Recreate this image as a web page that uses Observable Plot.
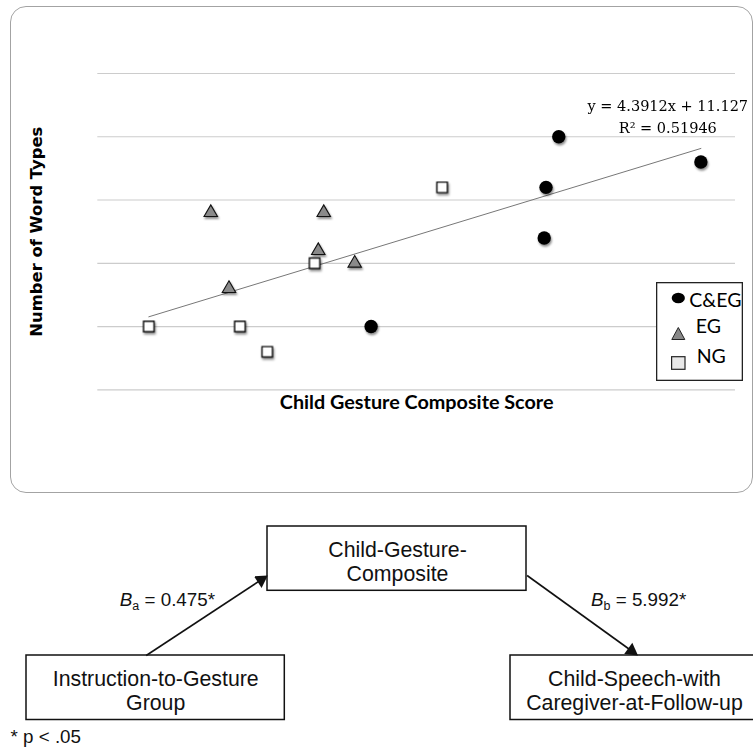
<!DOCTYPE html>
<html><head><meta charset="utf-8">
<script src="https://cdn.jsdelivr.net/npm/d3@7"></script>
<script src="https://cdn.jsdelivr.net/npm/@observablehq/plot@0.6"></script>
<style>
body{margin:0;background:#fff;}
#wrap{position:relative;width:753px;height:750px;overflow:hidden;background:#fff;}
#panel{position:absolute;left:9.5px;top:5.5px;width:743px;height:487.5px;border:1.3px solid #a3a3a3;border-radius:16px;box-sizing:border-box;pointer-events:none;}
#chart,#diagram{position:absolute;left:0;}
#chart{top:0;}
#diagram{top:500px;}
#legend{position:absolute;left:656px;top:282px;}
</style></head>
<body><div id="wrap"><div id="chart"></div><div id="legend"></div><div id="diagram"></div><div id="panel"></div></div>
<script>
// ---------- data ----------
const groups = ["C&EG", "EG", "NG"];
const cegX = [1.03, 1.81, 0.96, 0.95, 0.00];
const cegY = [20, 18, 16, 12, 5];
const egX = [-0.88, -0.26, -0.29, -0.78, -0.09];
const egY = [14, 14, 11, 8, 10];
const ngX = [-1.22, -0.72, -0.57, -0.31, 0.39];
const ngY = [5, 5, 3, 10, 16];
const yTicks = [0, 5, 10, 15, 20, 25];
const eqSlope = "4.3912", eqIntercept = "11.127", eqR2 = "0.51946";
const xLabel = "Child Gesture Composite Score";
const yLabel = "Number of Word Types";

const nodeLabels = ["Instruction-to-Gesture\nGroup", "Child-Gesture-\nComposite", "Child-Speech-with\nCaregiver-at-Follow-up"];
const pathSubs = ["a", "b"];
const pathCoefs = ["0.475", "5.992"];
const pathSig = ["*", "*"];
const footnote = "* p < .05";

// ---------- scatter ----------
const pts = (xs, ys, g) => xs.map((x, i) => ({x, y: ys[i], group: g}));
const ceg = pts(cegX, cegY, groups[0]), eg = pts(egX, egY, groups[1]), ng = pts(ngX, ngY, groups[2]);
const all = [...ceg, ...eg, ...ng];

const chart = Plot.plot({
  width: 753, height: 500,
  marginTop: 73, marginBottom: 110.7, marginLeft: 97.3, marginRight: 18,
  style: {background: "transparent", overflow: "visible"},
  x: {domain: [-1.5, 2], axis: null},
  y: {domain: [0, 25], axis: null},
  marks: [
    Plot.ruleY(yTicks, {stroke: "#cccccc", strokeWidth: 1.2}),
    Plot.linearRegressionY(all, {x: "x", y: "y", ci: 0, stroke: "#777", strokeWidth: 1}),
    Plot.dot(eg, {x: "x", y: "y", symbol: "triangle", r: 5, fill: "#8a8a8a", stroke: "#111", strokeWidth: 1.1}),
    Plot.dot(ng, {x: "x", y: "y", symbol: "square", r: 5.9, fill: "white", stroke: "#111", strokeWidth: 1.4}),
    Plot.dot(ceg, {x: "x", y: "y", r: 6.7, fill: "#000"}),
    Plot.text([`y = ${eqSlope}x + ${eqIntercept}\nR² = ${eqR2}`], {frameAnchor: "top-right", dx: -67.7, dy: 22, textAnchor: "middle", lineAnchor: "top", lineHeight: 1.52, fontFamily: "DejaVu Serif", fontSize: 14.5, fill: "#000"}),
    Plot.text([xLabel], {frameAnchor: "bottom", dy: 18.9, fontFamily: "Lato", fontWeight: "bold", fontSize: 19.8, fill: "#000"}),
    Plot.text([yLabel], {frameAnchor: "left", textAnchor: "middle", rotate: -90, dx: -61.3, fontFamily: "DejaVu Sans", fontWeight: "bold", fontSize: 16.4, fill: "#000"})
  ]
});
d3.select(chart).selectAll('g[aria-label="dot"]').style("filter", "drop-shadow(1px 2px 1.2px rgba(0,0,0,0.45))");
document.getElementById("chart").appendChild(chart);

// ---------- legend ----------
const lg = d3.select("#legend").append("svg").attr("width", 88).attr("height", 100);
lg.append("rect").attr("x", 0.65).attr("y", 0.65).attr("width", 85.7).attr("height", 97.7).attr("fill", "white").attr("stroke", "#222").attr("stroke-width", 1.3);
lg.append("ellipse").attr("cx", 22.3).attr("cy", 16).attr("rx", 6.6).attr("ry", 5.2).attr("fill", "#000");
lg.append("path").attr("d", "M22.3,45.5L28.8,57.5L15.8,57.5Z").attr("fill", "#888").attr("stroke", "#222").attr("stroke-width", 1);
lg.append("rect").attr("x", 15.6).attr("y", 74.7).attr("width", 13.4).attr("height", 12.6).attr("fill", "#e8e8e8").attr("stroke", "#222").attr("stroke-width", 1.2);
const legPos = [[33.3, 25.3], [39.7, 51.3], [40.7, 80.7]];
groups.forEach((g, i) => lg.append("text").attr("x", legPos[i][0]).attr("y", legPos[i][1]).attr("font-family", "Lato").attr("font-size", 19.5).attr("fill", "#000").text(g));

// ---------- mediation diagram ----------
const boxLayout = [
  {x1: 26, x2: 284.3, y1: 155, y2: 219.5, tx: 155.2},
  {x1: 267, x2: 526, y1: 26, y2: 90.3, tx: 397},
  {x1: 510, x2: 760, y1: 155, y2: 219.5, tx: 634}
];
const boxes = nodeLabels.map((label, i) => ({...boxLayout[i], label, ty: (boxLayout[i].y1 + boxLayout[i].y2) / 2 + 2.5}));
const arrowLayout = [
  {x1: 145.7, y1: 155, x2: 267.3, y2: 75},
  {x1: 526.6, y1: 75, x2: 637.5, y2: 155}
];
const arrows = arrowLayout.map(a => {
  const dx = a.x2 - a.x1, dy = a.y2 - a.y1, L = Math.hypot(dx, dy), ux = dx / L, uy = dy / L;
  return {...a, hx: a.x2 - ux * 8, hy: a.y2 - uy * 8, lx: a.x2 - ux * 9, ly: a.y2 - uy * 9, angle: Math.atan2(dx, -dy) * 180 / Math.PI};
});
const labelLayout = [{x: 119.3, y: 99.1}, {x: 590.5, y: 99.1}];
const pathLabels = pathSubs.map((s, i) => ({...labelLayout[i], text: `B${s} = ${pathCoefs[i]}${pathSig[i]}`}));

const diagram = Plot.plot({
  width: 753, height: 250, margin: 0,
  style: {background: "transparent", overflow: "visible"},
  x: {type: "identity", axis: null},
  y: {type: "identity", axis: null},
  marks: [
    Plot.rect(boxes, {x1: "x1", x2: "x2", y1: "y1", y2: "y2", fill: "white", stroke: "#111", strokeWidth: 1.5}),
    Plot.text(boxes, {x: "tx", y: "ty", text: "label", fontFamily: "Liberation Sans", fontSize: 21.3, lineHeight: 1.14, fill: "#111"}),
    Plot.link(arrows, {x1: "x1", y1: "y1", x2: "lx", y2: "ly", stroke: "#111", strokeWidth: 1.6}),
    Plot.dot(arrows, {x: "hx", y: "hy", symbol: "triangle", r: 5.14, rotate: "angle", fill: "#111"}),
    Plot.text(pathLabels, {x: "x", y: "y", text: "text", textAnchor: "start", fontFamily: "Liberation Sans", fontSize: 18.8, fill: "#111"}),
    Plot.text([footnote], {x: () => 10, y: () => 236.8, textAnchor: "start", fontFamily: "Liberation Sans", fontSize: 18.8, fill: "#111"})
  ]
});
d3.select(diagram).selectAll("text").each(function() {
  const m = this.textContent.match(/^B([ab])( = .*)$/);
  if (!m) return;
  const s = d3.select(this);
  s.text(null);
  s.append("tspan").attr("font-style", "italic").text("B");
  s.append("tspan").attr("font-size", "12.5px").attr("dy", "4").text(m[1]);
  s.append("tspan").attr("dy", "-4").text(m[2]);
});
document.getElementById("diagram").appendChild(diagram);
</script>
</body></html>
